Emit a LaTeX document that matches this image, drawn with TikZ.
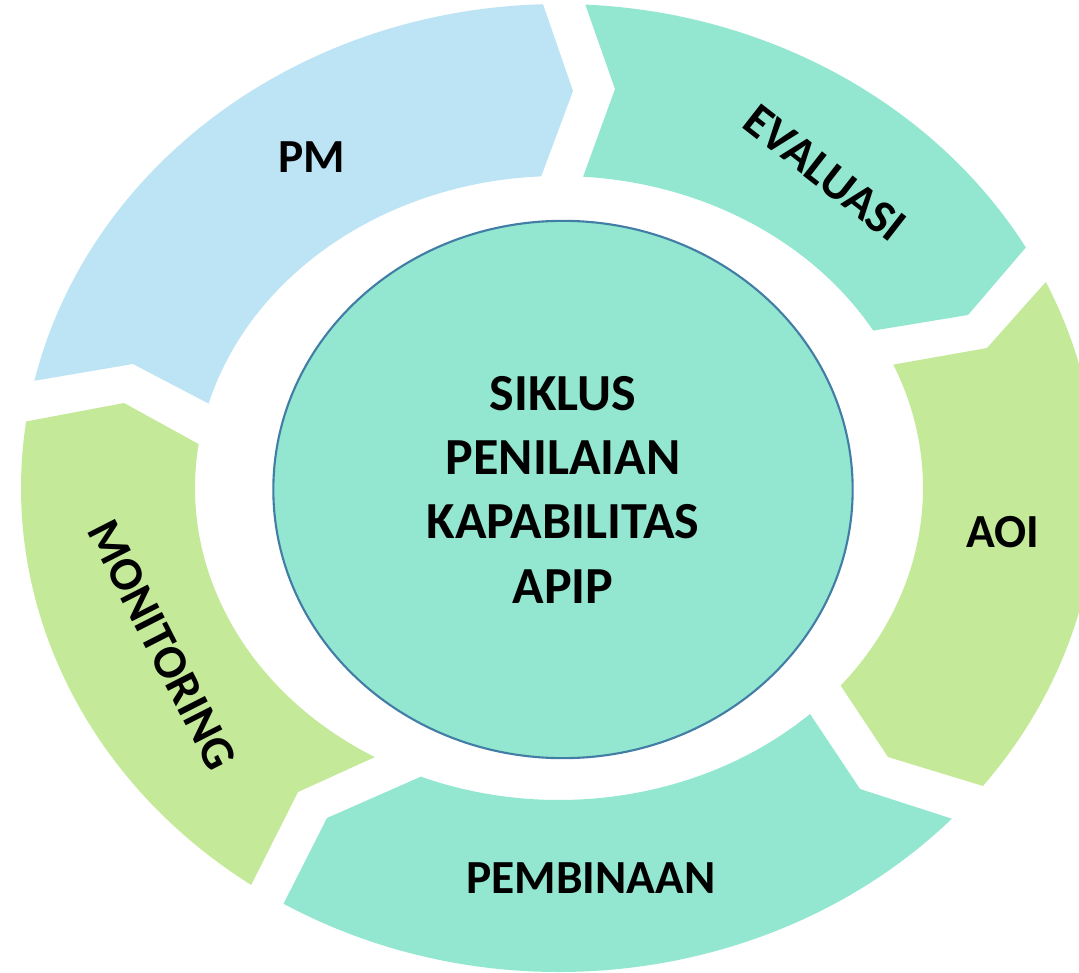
\documentclass[tikz,border=0pt]{standalone}
\usepackage{fontspec}
\setmainfont{Carlito}
\usetikzlibrary{shapes.geometric}
\definecolor{pmblue}{RGB}{189,228,244}
\definecolor{mint}{RGB}{147,230,208}
\definecolor{lime}{RGB}{196,233,153}
\definecolor{rim}{RGB}{65,125,165}
\tikzset{
  hub/.style={
    shape = ellipse,
    draw = rim,
    line width = 0.6pt,
    fill = mint,
    inner sep = 0pt,
    minimum width = 5.79cm,
    minimum height = 5.37cm,
    align = center,
    font = \bfseries\fontsize{14.8}{18.3}\selectfont
  },
  lbl/.style={
    inner sep = 0pt,
    font = \bfseries\fontsize{13.5}{16}\selectfont
  },
}
\begin{document}
\begin{tikzpicture}[x=0.01cm,y=0.01cm]
  \useasboundingbox (0,0) rectangle (1079,-973);
  \clip (0,0) rectangle (1079,-973);
  \coordinate (ring) at (559,-488);
  % tips and notches of the arrows
  \coordinate (pmtip) at (573,-91);     \coordinate (pmnotch) at (133,-364);
  \coordinate (evtip) at (968,-315);    \coordinate (evnotch) at (615,-89);
  \coordinate (aoitip) at (888,-757);   \coordinate (aoinotch) at (987,-348);
  \coordinate (pbtip) at (327,-818);    \coordinate (pbnotch) at (860,-789);
  \coordinate (montip) at (124,-403);   \coordinate (monnotch) at (298,-792);
  \foreach \s/\col/\a/\b/\c/\d in {pm/pmblue/167.2/91.7/92.8/164.3,
      ev/mint/87.2/29.8/30.3/86.2, aoi/lime/25.2/-38/-39.3/23.3,
      pb/mint/-43.1/-120.8/-112.3/-46.4, mon/lime/-124.9/-187.9/-188.1/-120.4}{
    \fill[\col] ([shift={(\a:538 and 484)}]ring)
      arc[start angle=\a, end angle=\b, x radius=538, y radius=484]
      -- (\s tip) -- ([shift={(\c:364 and 312)}]ring)
      arc[start angle=\c, end angle=\d, x radius=364, y radius=312]
      -- (\s notch) -- cycle;
  }
  \node[hub] (siklus) at (563,-489.5) {SIKLUS\\PENILAIAN\\KAPABILITAS\\APIP};
  \node[lbl] (pm) at (312,-157) {PM};
  \node[lbl,rotate=-38] (evaluasi) at (825,-173) {EVALUASI};
  \node[lbl] (aoi) at (1003,-532) {AOI};
  \node[lbl] (pembinaan) at (591,-878) {PEMBINAAN};
  \node[lbl,rotate=-63] (monitoring) at (162,-645) {MONITORING};
\end{tikzpicture}
\end{document}
